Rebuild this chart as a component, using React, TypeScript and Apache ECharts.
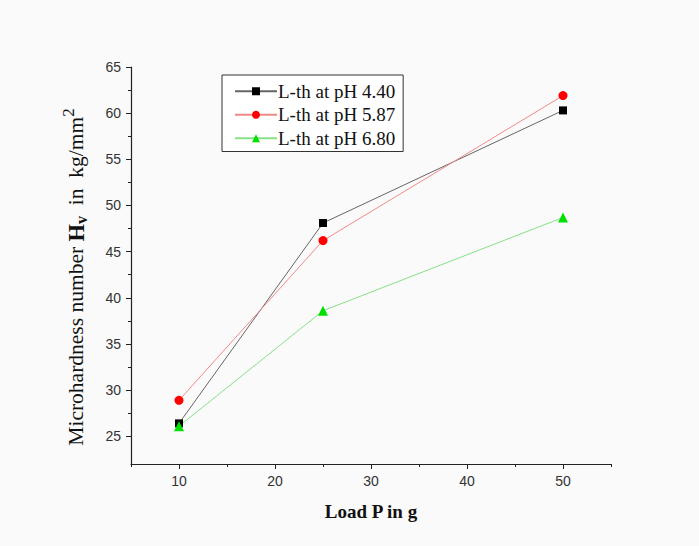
import React, { useEffect, useRef } from "react";
import * as echarts from "echarts";

const loads = [10, 25, 50];
const seriesNames = ["L-th at pH 4.40", "L-th at pH 5.87", "L-th at pH 6.80"];
const hvPH440 = [26.4, 48.1, 60.3];
const hvPH587 = [28.9, 46.2, 61.9];
const hvPH680 = [26.1, 38.6, 48.7];
const xMajorTicks = [10, 20, 30, 40, 50];
const xMinorTicks = [5, 15, 25, 35, 45, 55];
const yMajorTicks = [25, 30, 35, 40, 45, 50, 55, 60, 65];
const yMinorTicks = [27.5, 32.5, 37.5, 42.5, 47.5, 52.5, 57.5, 62.5];
const yTitle = "Microhardness number {b|H}{sub|v}  in  kg/mm{sup|2}";
const xTitle = "Load P in g";

export default function App() {
  const ref = useRef<HTMLDivElement>(null);
  useEffect(() => {
    if (!ref.current) return;
    const chart = echarts.init(ref.current, null, { renderer: "svg" });
    const toPairs = (ys: number[]) => loads.map((x, i) => [x, ys[i]]);
    const serif = "'Liberation Serif', 'Times New Roman', serif";
    const sans = "'Liberation Sans', Arial, sans-serif";
    const axisLine = { show: true, lineStyle: { color: "#222", width: 1.2 } };
    chart.setOption({
      animation: false,
      backgroundColor: "#fafafa",
      grid: { left: 131, right: 88, top: 67, bottom: 82, containLabel: false },
      graphic: [
        {
          type: "text",
          x: 76,
          y: 277,
          rotation: Math.PI / 2,
          style: {
            text: yTitle,
            fontFamily: serif,
            fontSize: 21.5,
            fill: "#111",
            align: "center",
            verticalAlign: "middle",
            rich: {
              b: { fontFamily: serif, fontSize: 22.5, fontWeight: "bold", fill: "#111" },
              sub: { fontFamily: serif, fontSize: 16, fontWeight: "bold", fill: "#111", padding: [10, 0, 0, 0] },
              sup: { fontFamily: serif, fontSize: 17, fill: "#111", padding: [0, 0, 16, 0] },
            },
          },
        },
      ],
      legend: {
        left: 222,
        top: 75,
        orient: "vertical",
        itemWidth: 42,
        itemHeight: 10,
        itemGap: 3,
        padding: [6, 8, 3, 12],
        borderColor: "#333",
        borderWidth: 1,
        backgroundColor: "#ffffff",
        textStyle: { fontFamily: serif, fontSize: 19, lineHeight: 20.5, color: "#111", padding: [0, 0, 0, -4] },
        data: seriesNames,
      },
      xAxis: [
        {
          type: "value",
          min: 5,
          max: 55,
          axisLine,
          splitLine: { show: false },
          axisTick: { show: true, customValues: xMajorTicks, length: 5, lineStyle: { color: "#222" } },
          axisLabel: { customValues: xMajorTicks, color: "#333", fontFamily: sans, fontSize: 14, margin: 10 },
          name: xTitle,
          nameLocation: "middle",
          nameGap: 38,
          nameTextStyle: { fontFamily: serif, fontSize: 19, fontWeight: "bold", color: "#111" },
        },
        {
          type: "value",
          min: 5,
          max: 55,
          position: "bottom",
          axisLine: { show: false },
          splitLine: { show: false },
          axisTick: { show: true, customValues: xMinorTicks, length: 3, lineStyle: { color: "#222" } },
          axisLabel: { show: false },
        },
      ],
      yAxis: [
        {
          type: "value",
          min: 22,
          max: 65,
          axisLine,
          splitLine: { show: false },
          axisTick: { show: true, customValues: yMajorTicks, length: 5, lineStyle: { color: "#222" } },
          axisLabel: { customValues: yMajorTicks, color: "#333", fontFamily: sans, fontSize: 14, margin: 10 },
        },
        {
          type: "value",
          min: 22,
          max: 65,
          position: "left",
          axisLine: { show: false },
          splitLine: { show: false },
          axisTick: { show: true, customValues: yMinorTicks, length: 3, lineStyle: { color: "#222" } },
          axisLabel: { show: false },
        },
      ],
      series: [
        {
          name: seriesNames[0],
          type: "line",
          data: toPairs(hvPH440),
          symbol: "rect",
          symbolSize: 8,
          itemStyle: { color: "#000000" },
          lineStyle: { color: "#666666", width: 1 },
        },
        {
          name: seriesNames[1],
          type: "line",
          data: toPairs(hvPH587),
          symbol: "circle",
          symbolSize: 9,
          itemStyle: { color: "#ff0000" },
          lineStyle: { color: "#f08a8a", width: 1 },
        },
        {
          name: seriesNames[2],
          type: "line",
          data: toPairs(hvPH680),
          symbol: "triangle",
          symbolSize: 10,
          itemStyle: { color: "#00e000" },
          lineStyle: { color: "#88e088", width: 1 },
        },
      ],
    });
    return () => chart.dispose();
  }, []);
  return (
    <div
      ref={ref}
      style={{ position: "absolute", left: 0, top: 0, width: 699, height: 546 }}
    />
  );
}
